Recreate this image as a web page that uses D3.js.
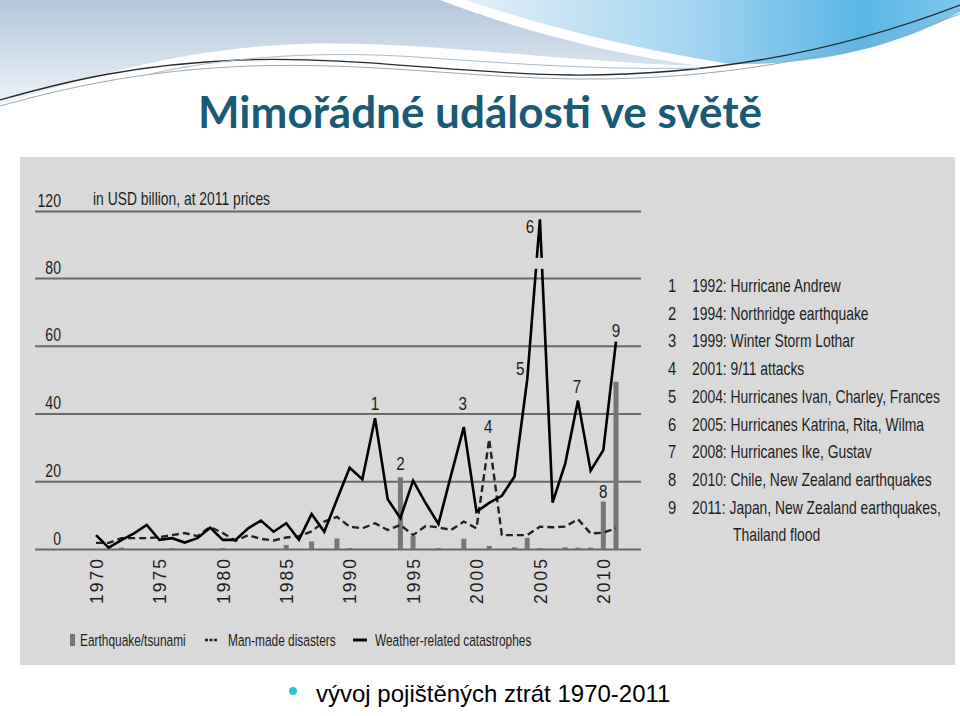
<!DOCTYPE html>
<html>
<head>
<meta charset="utf-8">
<script src="https://cdn.jsdelivr.net/npm/d3@7"></script>
<style>
  body { margin: 0; background: #fff; }
  svg text { font-family: "Liberation Sans", Arial, sans-serif; }
</style>
</head>
<body>
<div id="chart"></div>
<script>
// insured losses, USD billion at 2011 prices
const years = [1970, 1971, 1972, 1973, 1974, 1975, 1976, 1977, 1978, 1979,
               1980, 1981, 1982, 1983, 1984, 1985, 1986, 1987, 1988, 1989,
               1990, 1991, 1992, 1993, 1994, 1995, 1996, 1997, 1998, 1999,
               2000, 2001, 2002, 2003, 2004, 2005, 2006, 2007, 2008, 2009,
               2010, 2011];

const weather = [4.1, 0.4, 2.6, 4.6, 7.1, 2.7, 3.2, 1.9, 3.2, 6.3,
                 2.7, 2.7, 6.1, 8.4, 5.1, 7.6, 2.7, 10.3, 5.1, 14.6,
                 24.0, 20.6, 38.6, 14.7, 9.1, 20.2, 13.5, 7.4, 21.9, 36.0,
                 11.0, 13.6, 15.7, 21.4, 50.0, 115.0, 13.7, 25.3, 43.8, 23.1,
                 29.2, 61.2];

const manMade = [1.8, 1.8, 3.2, 3.2, 3.2, 3.5, 4.1, 4.7, 3.8, 6.5,
                 4.7, 2.4, 4.1, 3.0, 2.5, 3.4, 3.8, 5.2, 8.1, 9.5,
                 6.6, 6.1, 7.6, 5.6, 7.1, 4.1, 6.8, 6.4, 5.6, 8.1,
                 6.1, 32.4, 4.1, 4.1, 4.1, 6.6, 6.4, 6.6, 8.8, 4.6,
                 4.8, 6.1];

const quake = [0, 0, 0.4, 0, 0, 0, 0.3, 0, 0, 0,
               0.3, 0, 0, 0, 0, 1.2, 0, 2.2, 0, 3.1,
               0.3, 0, 0, 0, 21.2, 3.8, 0, 0.3, 0, 3.0,
               0, 0.9, 0, 0.5, 3.3, 0.3, 0, 0.5, 0.4, 0.4,
               14.0, 49.4];

const yTicks = [0, 20, 40, 60, 80, 120];
const xTicks = [1970, 1975, 1980, 1985, 1990, 1995, 2000, 2005, 2010];

const annotations = [
  { n: "1", year: 1992, series: "weather" },
  { n: "2", year: 1994, series: "quake" },
  { n: "3", year: 1999, series: "weather" },
  { n: "4", year: 2001, series: "manMade" },
  { n: "5", year: 2004, series: "weather" },
  { n: "6", year: 2005, series: "weather" },
  { n: "7", year: 2008, series: "weather" },
  { n: "8", year: 2010, series: "quake" },
  { n: "9", year: 2011, series: "weather" }
];

const events = [
  "1992: Hurricane Andrew",
  "1994: Northridge earthquake",
  "1999: Winter Storm Lothar",
  "2001: 9/11 attacks",
  "2004: Hurricanes Ivan, Charley, Frances",
  "2005: Hurricanes Katrina, Rita, Wilma",
  "2008: Hurricanes Ike, Gustav",
  "2010: Chile, New Zealand earthquakes",
  "2011: Japan, New Zealand earthquakes,|Thailand flood"
];

const legendItems = [
  { label: "Earthquake/tsunami", type: "bar" },
  { label: "Man-made disasters", type: "dash" },
  { label: "Weather-related catastrophes", type: "line" }
];

const seriesData = { weather: weather, manMade: manMade, quake: quake };

const W = 960, H = 716;
const svg = d3.select("#chart").append("svg")
  .attr("width", W)
  .attr("height", H);

// squeeze text horizontally to mimic the condensed font of the original
function condense(sel, k) {
  sel.each(function() {
    const t = d3.select(this);
    const x0 = +t.attr("x") || 0, y0 = +t.attr("y") || 0;
    t.attr("x", 0).attr("y", 0)
      .attr("transform", `translate(${x0},${y0}) scale(${k},1)`);
  });
}

// ---- slide header ----
const defs = svg.append("defs");
const gTop = defs.append("linearGradient").attr("id", "gTop")
  .attr("x1", 0).attr("y1", 0).attr("x2", 0).attr("y2", 1);
gTop.append("stop").attr("offset", "0%").attr("stop-color", "#b2c6da");
gTop.append("stop").attr("offset", "100%").attr("stop-color", "#eef3f8");

const gBlue = defs.append("linearGradient").attr("id", "gBlue")
  .attr("x1", 0).attr("y1", 0).attr("x2", 1).attr("y2", 0);
gBlue.append("stop").attr("offset", "0%").attr("stop-color", "#e4f0f8");
gBlue.append("stop").attr("offset", "45%").attr("stop-color", "#a5d5f0");
gBlue.append("stop").attr("offset", "80%").attr("stop-color", "#5ab6e6");
gBlue.append("stop").attr("offset", "100%").attr("stop-color", "#7cc6ec");

svg.append("path")
  .attr("d", "M0,0 H440 C520,30 600,52 700,66 C560,62 420,40 300,44 C180,48 80,80 0,104 Z")
  .attr("fill", "url(#gTop)");

svg.append("path")
  .attr("d", "M465,0 H960 V12 C900,45 820,66 730,64 C640,50 550,28 465,0 Z")
  .attr("fill", "url(#gBlue)");

svg.append("path")
  .attr("d", "M0,100 C70,80 140,64 240,60 C360,56 460,74 570,75 C700,76 830,55 960,5")
  .attr("fill", "none").attr("stroke", "#2a2a2a").attr("stroke-width", 1.3);
svg.append("path")
  .attr("d", "M0,106 C80,84 150,70 250,66 C370,62 470,78 580,79 C710,80 840,60 960,14")
  .attr("fill", "none").attr("stroke", "#9aa9b6").attr("stroke-width", 1);
svg.append("path")
  .attr("d", "M150,74 C230,56 330,50 430,58 C520,64 600,70 700,68")
  .attr("fill", "none").attr("stroke", "#a8bccd").attr("stroke-width", 1);

svg.append("text")
  .attr("x", 480).attr("y", 128)
  .attr("text-anchor", "middle")
  .style("font-family", "Lato, 'Open Sans', sans-serif")
  .style("font-weight", "bold")
  .style("font-size", "44px")
  .attr("fill", "#1b5a74")
  .text("Mimořádné události ve světě");

// ---- gray chart panel ----
svg.append("rect")
  .attr("x", 20).attr("y", 157)
  .attr("width", 935).attr("height", 508)
  .attr("fill", "#d9d9d9");

// scales (broken axis: 80 -> 120 compressed into one step)
const x = d3.scaleLinear()
  .domain([1970, 2011])
  .range([96, 616]);

const y = d3.scaleLinear()
  .domain([0, 80, 120])
  .range([549, 278, 211]);

const gridLeft = 35, gridRight = 641;

// gridlines + labels
const yAxis = svg.append("g")
  .attr("class", "y-axis")
  .attr("transform", `translate(${gridLeft},0)`)
  .call(d3.axisRight(y).tickValues(yTicks).tickSize(gridRight - gridLeft));
yAxis.select(".domain").remove();
yAxis.selectAll(".tick line")
  .attr("stroke", "#6a6a6a")
  .attr("stroke-width", 2);
yAxis.selectAll(".tick text")
  .attr("x", 26)
  .attr("y", -5)
  .attr("dy", 0)
  .attr("text-anchor", "end")
  .style("font-size", "19px")
  .attr("fill", "#1e1e1e")
  .call(condense, 0.74);

svg.append("text")
  .attr("x", 93).attr("y", 205)
  .style("font-size", "18.5px")
  .attr("fill", "#1e1e1e")
  .text("in USD billion, at 2011 prices")
  .call(condense, 0.75);

// x axis year labels
const xAxis = svg.append("g")
  .attr("class", "x-axis")
  .attr("transform", `translate(0,${y(0)})`)
  .call(d3.axisBottom(x).tickValues(xTicks).tickFormat(d3.format("d")).tickSize(0));
xAxis.select(".domain").remove();
xAxis.selectAll("text")
  .attr("transform", "rotate(-90)")
  .attr("x", -8)
  .attr("y", 0)
  .attr("dy", "0.36em")
  .attr("text-anchor", "end")
  .style("font-size", "17.5px")
  .style("letter-spacing", "2px")
  .attr("fill", "#1e1e1e");

// earthquake bars
const barW = 5;
svg.append("g").selectAll("rect")
  .data(years.map((yr, i) => ({ year: yr, v: quake[i] })).filter(d => d.v > 0))
  .join("rect")
  .attr("x", d => x(d.year) - barW / 2)
  .attr("y", d => y(d.v))
  .attr("width", barW)
  .attr("height", d => y(0) - y(d.v))
  .attr("fill", "#767676");

// lines
const line = d3.line()
  .x((d, i) => x(years[i]))
  .y(d => y(d));

svg.append("path")
  .datum(manMade)
  .attr("d", line)
  .attr("fill", "none")
  .attr("stroke", "#222")
  .attr("stroke-width", 2.4)
  .attr("stroke-dasharray", "7,4");

svg.append("path")
  .datum(weather)
  .attr("d", line)
  .attr("fill", "none")
  .attr("stroke", "#000")
  .attr("stroke-width", 2.6)
  .attr("stroke-linejoin", "miter");

// axis break on the 2005 spike
svg.append("rect")
  .attr("x", x(2004.5))
  .attr("y", y(92))
  .attr("width", x(2005.5) - x(2004.5))
  .attr("height", y(85.5) - y(92))
  .attr("fill", "#d9d9d9");

// numbered annotations
const labelShift = {
  "1": [0, -8], "2": [0, -7], "3": [-1, -17], "4": [-1, -6], "5": [-7, -5],
  "6": [-10, 14], "7": [-1, -8], "8": [0, -4], "9": [0, -5]
};
svg.append("g").selectAll("text")
  .data(annotations)
  .join("text")
  .attr("x", d => x(d.year) + labelShift[d.n][0])
  .attr("y", d => y(seriesData[d.series][years.indexOf(d.year)]) + labelShift[d.n][1])
  .attr("text-anchor", "middle")
  .style("font-size", "19px")
  .attr("fill", "#1e1e1e")
  .text(d => d.n)
  .call(condense, 0.8);

// event list on the right
const list = svg.append("g");
events.forEach((e, i) => {
  const yy = 292 + i * 27.7;
  list.append("text")
    .attr("x", 672).attr("y", yy)
    .attr("text-anchor", "middle")
    .style("font-size", "18.5px")
    .attr("fill", "#1e1e1e")
    .text(i + 1)
    .call(condense, 0.8);
  const parts = e.split("|");
  list.append("text")
    .attr("x", 692).attr("y", yy)
    .style("font-size", "18.5px")
    .attr("fill", "#1e1e1e")
    .text(parts[0])
    .call(condense, 0.75);
  if (parts[1]) {
    list.append("text")
      .attr("x", 733).attr("y", yy + 27.7)
      .style("font-size", "18.5px")
      .attr("fill", "#1e1e1e")
      .text(parts[1])
      .call(condense, 0.75);
  }
});

// legend
const legendX = [70, 205, 353];
const legendTextX = [80, 228, 375];
const lg = svg.append("g");
legendItems.forEach((d, i) => {
  if (d.type === "bar") {
    lg.append("rect")
      .attr("x", legendX[i]).attr("y", 634)
      .attr("width", 5).attr("height", 12)
      .attr("fill", "#767676");
  } else if (d.type === "dash") {
    lg.append("line")
      .attr("x1", legendX[i]).attr("x2", legendX[i] + 12)
      .attr("y1", 640).attr("y2", 640)
      .attr("stroke", "#222").attr("stroke-width", 2.5)
      .attr("stroke-dasharray", "3,1.5");
  } else {
    lg.append("line")
      .attr("x1", legendX[i]).attr("x2", legendX[i] + 14)
      .attr("y1", 640).attr("y2", 640)
      .attr("stroke", "#000").attr("stroke-width", 3);
  }
  lg.append("text")
    .attr("x", legendTextX[i]).attr("y", 646)
    .style("font-size", "17px")
    .attr("fill", "#1e1e1e")
    .text(d.label)
    .call(condense, 0.7);
});

// bullet line under the chart
svg.append("circle")
  .attr("cx", 293).attr("cy", 691).attr("r", 4)
  .attr("fill", "#2fc3d8");
svg.append("text")
  .attr("x", 316).attr("y", 702)
  .style("font-size", "24px")
  .attr("fill", "#000")
  .text("vývoj pojištěných ztrát 1970-2011");
</script>
</body>
</html>
